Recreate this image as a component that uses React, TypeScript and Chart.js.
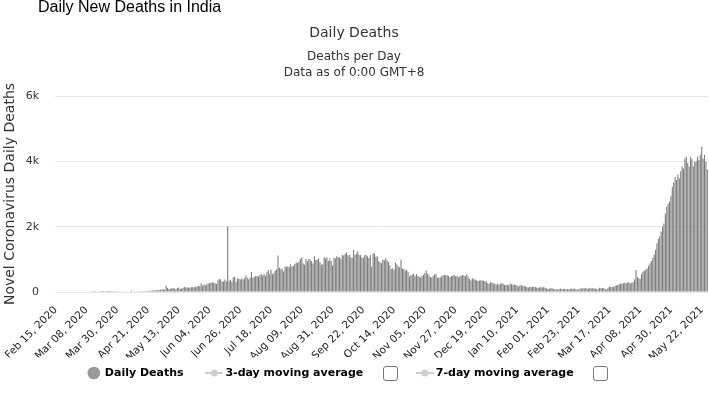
import React, { useEffect, useRef } from 'react';
import { Chart, registerables } from 'chart.js';

Chart.register(...registerables);

// ---- Data (daily new deaths, India) starting Feb 15, 2020 ----
const feb2020 = [0, 0, 0, 0, 0, 0, 0, 0, 0, 0, 0, 0, 0, 0, 0];
const mar2020 = [0, 0, 0, 0, 0, 0, 0, 0, 0, 0, 0, 1, 0, 1, 0, 0, 1, 0, 1, 1, 0, 3, 2, 2, 3, 4, 6, 6, 5, 4, 13];
const apr2020 = [6, 12, 10, 18, 12, 20, 14, 18, 45, 14, 20, 16, 22, 18, 24, 20, 22, 24, 26, 22, 38, 42, 40, 46, 44, 48, 50, 58, 62, 66];
const may2020 = [77, 93, 68, 194, 126, 92, 103, 104, 120, 104, 87, 123, 136, 103, 100, 120, 157, 134, 140, 133, 132, 148, 142, 146, 154, 170, 194, 175, 265, 193, 230];
const jun2020 = [204, 230, 260, 273, 286, 294, 287, 266, 246, 357, 396, 386, 311, 325, 380, 330, 2003, 341, 375, 306, 445, 465, 312, 418, 407, 384, 410, 380, 418, 507];
const jul2020 = [434, 379, 442, 613, 425, 467, 482, 487, 475, 519, 551, 500, 553, 500, 606, 671, 543, 681, 543, 587, 648, 700, 1120, 740, 708, 708, 636, 779, 775, 779, 764];
const aug2020 = [853, 771, 806, 857, 904, 886, 933, 1007, 1065, 871, 834, 1007, 942, 1007, 996, 941, 876, 1092, 977, 984, 1022, 912, 836, 848, 1063, 1023, 1057, 948, 1021, 948, 819];
const sep2020 = [1045, 1026, 1095, 1066, 1065, 1016, 1133, 1115, 1172, 1209, 1114, 1136, 1054, 1054, 1283, 1132, 1174, 1247, 1133, 1130, 1054, 1053, 1124, 1141, 1089, 1039, 1124, 776, 1179, 1179];
const oct2020 = [1069, 1095, 940, 903, 884, 986, 971, 1036, 964, 918, 816, 706, 730, 680, 895, 840, 780, 760, 990, 720, 706, 650, 680, 620, 480, 510, 520, 560, 480, 551, 490];
const nov2020 = [470, 449, 490, 520, 580, 660, 559, 512, 449, 448, 500, 547, 547, 435, 435, 449, 474, 510, 520, 515, 511, 491, 447, 489, 500, 524, 485, 496, 443, 482];
const dec2020 = [500, 520, 505, 480, 540, 470, 400, 355, 420, 390, 380, 360, 336, 354, 360, 355, 341, 330, 320, 278, 252, 300, 290, 264, 252, 226, 250, 224, 251, 270, 256];
const jan2021 = [216, 214, 224, 201, 264, 234, 219, 228, 213, 201, 168, 202, 219, 176, 191, 175, 145, 137, 162, 151, 163, 152, 150, 131, 127, 137, 153, 131, 163, 127, 114];
const feb2021 = [94, 107, 107, 123, 92, 94, 78, 84, 94, 107, 87, 94, 97, 80, 88, 78, 96, 101, 100, 103, 87, 78, 80, 104, 108, 111, 114, 112];
const mar2021 = [106, 98, 133, 108, 111, 114, 99, 96, 77, 131, 112, 126, 117, 89, 77, 131, 158, 156, 154, 158, 188, 199, 212, 235, 251, 257, 270, 285, 271, 290, 300];
const apr2021 = [260, 280, 300, 380, 670, 470, 420, 400, 560, 620, 650, 700, 720, 800, 880, 950, 1050, 1150, 1290, 1490, 1620, 1700, 1850, 2000, 2100, 2400, 2610, 2700, 2770, 2950];
const may2021 = [3220, 3350, 3530, 3430, 3600, 3480, 3700, 3840, 3780, 4090, 4140, 3950, 3840, 4140, 4060, 3840, 3990, 4000, 4150, 4040, 4200, 4450, 4090, 4200, 3990, 3750];

const dailyDeaths = [
  ...feb2020, ...mar2020, ...apr2020, ...may2020, ...jun2020, ...jul2020,
  ...aug2020, ...sep2020, ...oct2020, ...nov2020, ...dec2020, ...jan2021,
  ...feb2021, ...mar2021, ...apr2021, ...may2021,
];

const startYear = 2020;
const startMonthIndex = 1; // February
const startDay = 15;
const tickEvery = 22;
const yTickValues = [0, 2000, 4000, 6000];
const monthNames = ['Jan', 'Feb', 'Mar', 'Apr', 'May', 'Jun', 'Jul', 'Aug', 'Sep', 'Oct', 'Nov', 'Dec'];

const seriesNames = ['Daily Deaths', '3-day moving average', '7-day moving average'];
const chartTitle = 'Daily Deaths';
const chartSubtitle = ['Deaths per Day', 'Data as of 0:00 GMT+8'];
const yAxisTitle = 'Novel Coronavirus Daily Deaths';
const pageHeading = 'Daily New Deaths in India';

function buildLabels(n: number): string[] {
  const out: string[] = [];
  for (let i = 0; i < n; i++) {
    const d = new Date(Date.UTC(startYear, startMonthIndex, startDay + i));
    out.push(`${monthNames[d.getUTCMonth()]} ${String(d.getUTCDate()).padStart(2, '0')}, ${d.getUTCFullYear()}`);
  }
  return out;
}

function lineIcon(color: string): HTMLCanvasElement {
  const c = document.createElement('canvas');
  c.width = 18;
  c.height = 10;
  const x = c.getContext('2d')!;
  x.strokeStyle = color;
  x.lineWidth = 2;
  x.beginPath();
  x.moveTo(0, 5);
  x.lineTo(18, 5);
  x.stroke();
  x.fillStyle = color;
  x.beginPath();
  x.arc(9, 5, 3.5, 0, Math.PI * 2);
  x.fill();
  return c;
}

const checkboxPlugin = {
  id: 'legendCheckboxes',
  afterDraw(chart: any) {
    const lg = chart.legend;
    if (!lg || !lg.legendHitBoxes) return;
    const ctx = chart.ctx;
    [1, 2].forEach((i) => {
      const hb = lg.legendHitBoxes[i];
      if (!hb) return;
      const x = Math.round(hb.left + 174) + 0.5;
      const y = Math.round(hb.top + hb.height / 2 - 7) + 0.5;
      ctx.save();
      ctx.strokeStyle = '#777';
      ctx.lineWidth = 1;
      ctx.beginPath();
      const w = 14, h = 14, r = 2.5;
      ctx.moveTo(x + r, y);
      ctx.lineTo(x + w - r, y);
      ctx.arcTo(x + w, y, x + w, y + r, r);
      ctx.lineTo(x + w, y + h - r);
      ctx.arcTo(x + w, y + h, x + w - r, y + h, r);
      ctx.lineTo(x + r, y + h);
      ctx.arcTo(x, y + h, x, y + h - r, r);
      ctx.lineTo(x, y + r);
      ctx.arcTo(x, y, x + r, y, r);
      ctx.closePath();
      ctx.fillStyle = '#fff';
      ctx.fill();
      ctx.stroke();
      ctx.restore();
    });
  },
};

export default function App() {
  const canvasRef = useRef<HTMLCanvasElement | null>(null);

  useEffect(() => {
    if (!canvasRef.current) return;
    Chart.defaults.font.family = "'DejaVu Sans', sans-serif";
    const labels = buildLabels(dailyDeaths.length);
    const icon3 = lineIcon('#cfcfcf');
    const icon7 = lineIcon('#cfcfcf');

    const chart = new Chart(canvasRef.current, {
      type: 'bar',
      data: {
        labels,
        datasets: [
          {
            type: 'bar',
            label: seriesNames[0],
            data: dailyDeaths,
            backgroundColor: '#7d7d7d',
            borderWidth: 0,
            barPercentage: 0.78,
            categoryPercentage: 1,
          } as any,
          {
            type: 'line',
            label: seriesNames[1],
            data: [],
            borderColor: '#cfcfcf',
            backgroundColor: '#cfcfcf',
          } as any,
          {
            type: 'line',
            label: seriesNames[2],
            data: [],
            borderColor: '#cfcfcf',
            backgroundColor: '#cfcfcf',
          } as any,
        ],
      },
      options: {
        animation: false,
        responsive: false,
        layout: { padding: { left: 0, right: 1, top: 0, bottom: 14.5 } },
        plugins: {
          tooltip: { enabled: false },
          title: {
            display: true,
            text: chartTitle,
            color: '#333',
            font: { size: 14, weight: 'normal' },
            padding: { top: 24.6, bottom: 0 },
          },
          subtitle: {
            display: true,
            text: chartSubtitle,
            color: '#333',
            font: { size: 12, lineHeight: 16 / 12 },
            padding: { top: 7.6, bottom: 15 },
          },
          legend: {
            position: 'bottom',
            labels: {
              usePointStyle: true,
              boxWidth: 13,
              boxHeight: 9,
              padding: 10,
              color: '#333',
              font: { size: 11, weight: 'bold' },
              generateLabels: () => [
                {
                  text: seriesNames[0] + '    ',
                  fillStyle: '#999',
                  strokeStyle: '#999',
                  lineWidth: 0,
                  pointStyle: 'circle',
                  hidden: false,
                  datasetIndex: 0,
                },
                {
                  text: seriesNames[1] + '            ',
                  fillStyle: '#cfcfcf',
                  strokeStyle: '#cfcfcf',
                  lineWidth: 0,
                  pointStyle: icon3,
                  hidden: false,
                  datasetIndex: 1,
                },
                {
                  text: seriesNames[2] + '            ',
                  fillStyle: '#cfcfcf',
                  strokeStyle: '#cfcfcf',
                  lineWidth: 0,
                  pointStyle: icon7,
                  hidden: false,
                  datasetIndex: 2,
                },
              ] as any,
            },
          },
        },
        scales: {
          x: {
            offset: true,
            grid: { display: false },
            border: { display: false },
            ticks: {
              autoSkip: false,
              maxRotation: 45,
              minRotation: 45,
              padding: 4,
              color: '#222',
              font: { size: 10.5 },
              callback: (_v: any, idx: number) => (idx % tickEvery === 0 ? labels[idx] : null),
            },
            afterFit: (scale: any) => {
              scale.height = 65.5;
              scale.paddingLeft = 0;
              scale.paddingRight = 0;
            },
          },
          y: {
            min: 0,
            max: 6000,
            border: { display: false },
            grid: { color: '#e6e6e6', lineWidth: 1, drawTicks: false },
            afterBuildTicks: (scale: any) => {
              scale.ticks = yTickValues.map((v) => ({ value: v }));
            },
            ticks: {
              padding: 16,
              color: '#333',
              font: { size: 11 },
              callback: (v: any) => (Number(v) === 0 ? '0' : `${Number(v) / 1000}k`),
            },
            title: {
              display: true,
              text: yAxisTitle,
              color: '#333',
              font: { size: 14 },
              padding: { top: 2, bottom: 0 },
            },
            afterFit: (scale: any) => {
              scale.width = 55;
            },
          },
        },
      },
      plugins: [checkboxPlugin],
    });

    return () => chart.destroy();
  }, []);

  return (
    <div style={{ position: 'absolute', left: 0, top: 0, width: 709, height: 403, background: '#fff', overflow: 'hidden' }}>
      <canvas ref={canvasRef} width={709} height={403} style={{ position: 'absolute', left: 0, top: 0, width: 709, height: 403 }} />
      <div
        style={{
          position: 'absolute',
          left: 38,
          top: -2,
          fontFamily: "'Liberation Sans', Arial, sans-serif",
          fontSize: 16,
          color: '#000',
          whiteSpace: 'nowrap',
          pointerEvents: 'none',
        }}
      >
        {pageHeading}
      </div>
    </div>
  );
}
